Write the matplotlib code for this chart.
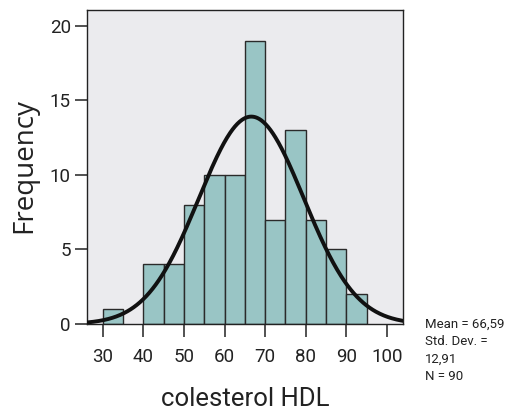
"""Histogram of HDL cholesterol with fitted normal curve."""

import matplotlib

matplotlib.use("Agg")
import matplotlib.pyplot as plt
import numpy as np

bin_edges = [30, 35, 40, 45, 50, 55, 60, 65, 70, 75, 80, 85, 90, 95]
counts = [1, 0, 4, 4, 8, 10, 10, 19, 7, 13, 7, 5, 2]
mean = 66.59
std_dev = 12.91
n_obs = 90
x_ticks = [30, 40, 50, 60, 70, 80, 90, 100]
y_ticks = [0, 5, 10, 15, 20]

plt.rcParams["font.family"] = ["Roboto", "DejaVu Sans"]

fig = plt.figure(figsize=(5.08, 4.12), dpi=100)
ax = fig.add_axes([0.171, 0.2136, 0.622, 0.762])
ax.set_facecolor("#EBEBEE")

lefts = np.array(bin_edges[:-1])
widths = np.diff(bin_edges)
for left, w, c in zip(lefts, widths, counts):
    if c > 0:
        ax.bar(left, c, width=w, align="edge", color="#99C5C5",
               edgecolor="#2a2a2a", linewidth=1.0, zorder=2)

xlim = (26.1, 103.9)
xs = np.linspace(xlim[0], xlim[1], 400)
bw = bin_edges[1] - bin_edges[0]
ys = n_obs * bw / (std_dev * np.sqrt(2 * np.pi)) * np.exp(-0.5 * ((xs - mean) / std_dev) ** 2)
ax.plot(xs, ys, color="#111111", linewidth=2.8, zorder=3)

ax.set_xlim(*xlim)
ax.set_ylim(0, 21.05)
ax.set_xticks(x_ticks)
ax.set_yticks(y_ticks)
ax.tick_params(axis="x", direction="out", length=9.5, width=1.2, color="#333333",
               labelsize=13.5, pad=7.5)
ax.tick_params(axis="y", direction="out", length=8.6, width=1.2, color="#333333",
               labelsize=13.5, pad=3)
for lab in ax.get_xticklabels() + ax.get_yticklabels():
    lab.set_color("#222222")
for s in ax.spines.values():
    s.set_color("#222222")
    s.set_linewidth(1.0)

ax.set_xlabel("colesterol HDL", fontsize=18.5, color="#222222")
ax.set_ylabel("Frequency", fontsize=20, color="#222222", family="Open Sans")
ax.xaxis.set_label_coords(0.5, -0.2)
ax.yaxis.set_label_coords(-0.155, 0.505)

stats = f"Mean = 66,59\nStd. Dev. =\n12,91\nN = {n_obs}"
fig.text(0.836, 0.228, stats, fontsize=9.5, color="#222222", va="top",
         ha="left", linespacing=1.42)

fig.savefig("out.png", dpi=100)
